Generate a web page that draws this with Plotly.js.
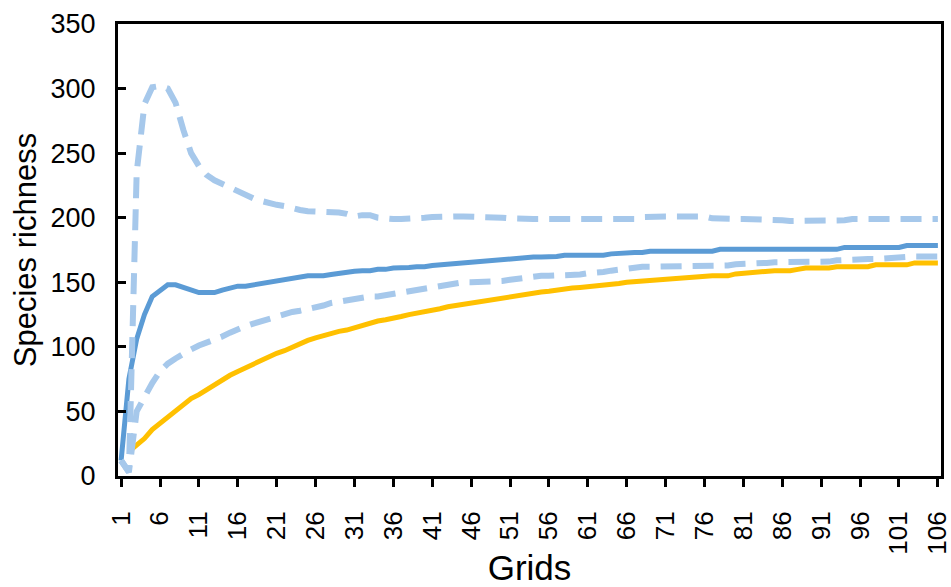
<!DOCTYPE html>
<html>
<head>
<meta charset="utf-8">
<script src="https://cdn.plot.ly/plotly-3.0.1.min.js"></script>
<style>html,body{margin:0;padding:0;background:#fff;}#chart{width:951px;height:587px;}</style>
</head>
<body>
<div id="chart"></div>
<script>
// Grid index 1..106
const grids = Array.from({length: 106}, (_, i) => i + 1);
const xTicks = [1,6,11,16,21,26,31,36,41,46,51,56,61,66,71,76,81,86,91,96,101,106];

const observed = [12,75,106,125,139,144,148,148,146,143,142,142,142,144,146,147,147,148,149,150,
  151,152,153,154,155,155,155,156,157,158,158.5,159,159,160,160,161,161,161.5,162,162,
  163,163.5,164,164.5,165,166,166,166.5,167,167.5,168,169,169,169.5,169.5,169.5,170,171,171,171,
  171,171,171,172,172.5,173,173,173,174,174,174,174,174,174,174,174,174,175.5,175.5,175.5,
  175.5,175.5,175.5,175.5,175.5,175.5,175.5,175.5,175.5,175.5,175.5,175.5,175.5,177,177,177,177,177,
  177,177,177,178.5,178.5,178.5,178.5,178.5];

const rarefied = [null,19,24,29,36,41,46,51,56,60,63,67,71,75,78,81,84,87,90,92,
  95,97,100,103,105,107,109,110,112,113,115,117,119,120,121,122,123.5,125,126,127,
  128.5,129.5,131,132,133,134,135,136,137,138,139,140,141,142,142.5,143,144,145,145.5,146,
  146.5,147,148,148.5,149,150,150.5,151,151,152,152.5,153,153.5,154,154,155,155,155,155,156.5,
  157,157.5,158,159,159,159,159,160,161,161,161,161,162,162,162,162,162,163.5,163.5,163.5,
  163.5,163.5,165,165,165,165];

const upperCI = [12,3,235,288,301,302,300,289,268,250,240,233,229,226,223,220,217,215,213,211,
  210,209,207,206,205,205,205,204,204,203,201,202,202,200,199,199,199,199,199,200,
  200.5,201,201,201,201,201,201,201,201,200,199.5,199,199,199,199,199,199,199,199,199,
  199,199,199,199,199,199,199,200.5,201,201,201,201,201,201,201,201,199.5,199,199,199,
  199,199,199,199,199,198,197.5,197.5,197.5,197.5,197.5,197.5,197.5,198,199,199,199,199,199,199,
  199,199,199,199,199,199];

const lowerCI = [12,3,50,62,72,81,87,91,95,98,101,103,106,108,111,114,116,118,120,121,
  123,125,127,128,129,131,132,134,135,137,138,138.5,139,139,140,141,142.5,143,144,145,
  146,147,148,149,150,150,150,151,151,151,152,153,154,154,155,155,155,156,156,156,
  157,157,158,159,160,161,161,162,162,162,162,162,162,162.5,163,163,163,163,163,164,
  164,165,165,165,165.5,165.5,166,166,166,166,166,166,167,167.5,168,168,168,168,168.5,169,
  170,170,170,170,170,170];

const blue = '#5B9BD5', lightBlue = '#A6C8EB', gold = '#FFC000';

const traces = [
  {x: grids, y: observed, type: 'scatter', mode: 'lines', name: 'Observed',
   line: {color: blue, width: 5}},
  {x: grids, y: rarefied, type: 'scatter', mode: 'lines', name: 'Rarefied',
   line: {color: gold, width: 5}},
  {x: grids, y: upperCI, type: 'scatter', mode: 'lines', name: 'Upper CI',
   line: {color: lightBlue, width: 6, dash: '21px,11px'}},
  {x: grids, y: lowerCI, type: 'scatter', mode: 'lines', name: 'Lower CI',
   line: {color: lightBlue, width: 6, dash: '21px,11px'}}
];

const fontFam = '"Liberation Sans", Arial, sans-serif';

const layout = {
  width: 951, height: 587,
  margin: {l: 118, r: 10, t: 24, b: 111},
  paper_bgcolor: '#fff', plot_bgcolor: '#fff',
  showlegend: false,
  font: {family: fontFam, color: '#000'},
  xaxis: {
    range: [0.6, 106.4],
    tickmode: 'array', tickvals: xTicks, ticktext: xTicks.map(String),
    tickangle: -90,
    tickfont: {size: 26, family: fontFam, color: '#000'},
    ticks: 'outside', ticklen: 8, tickwidth: 3, tickcolor: '#000',
    showline: true, linecolor: '#000', linewidth: 3, mirror: true,
    showgrid: false, zeroline: false,
    ticklabelstandoff: 14,
    ticklabeloverflow: 'allow',
    title: {text: 'Grids', font: {size: 35, family: fontFam, color: '#000'}, standoff: 8},
    automargin: false
  },
  yaxis: {
    range: [0, 350],
    tickmode: 'array', tickvals: [0,50,100,150,200,250,300,350],
    tickfont: {size: 27, family: fontFam, color: '#000'},
    ticks: 'inside', ticklen: 8, tickwidth: 3, tickcolor: '#000',
    showline: true, linecolor: '#000', linewidth: 3, mirror: true,
    showgrid: false, zeroline: false,
    ticklabelstandoff: 14,
    title: {text: 'Species richness', font: {size: 31, family: fontFam, color: '#000'}, standoff: 5},
    automargin: false
  }
};

Plotly.newPlot('chart', traces, layout, {displayModeBar: false, staticPlot: true});
</script>
</body>
</html>
